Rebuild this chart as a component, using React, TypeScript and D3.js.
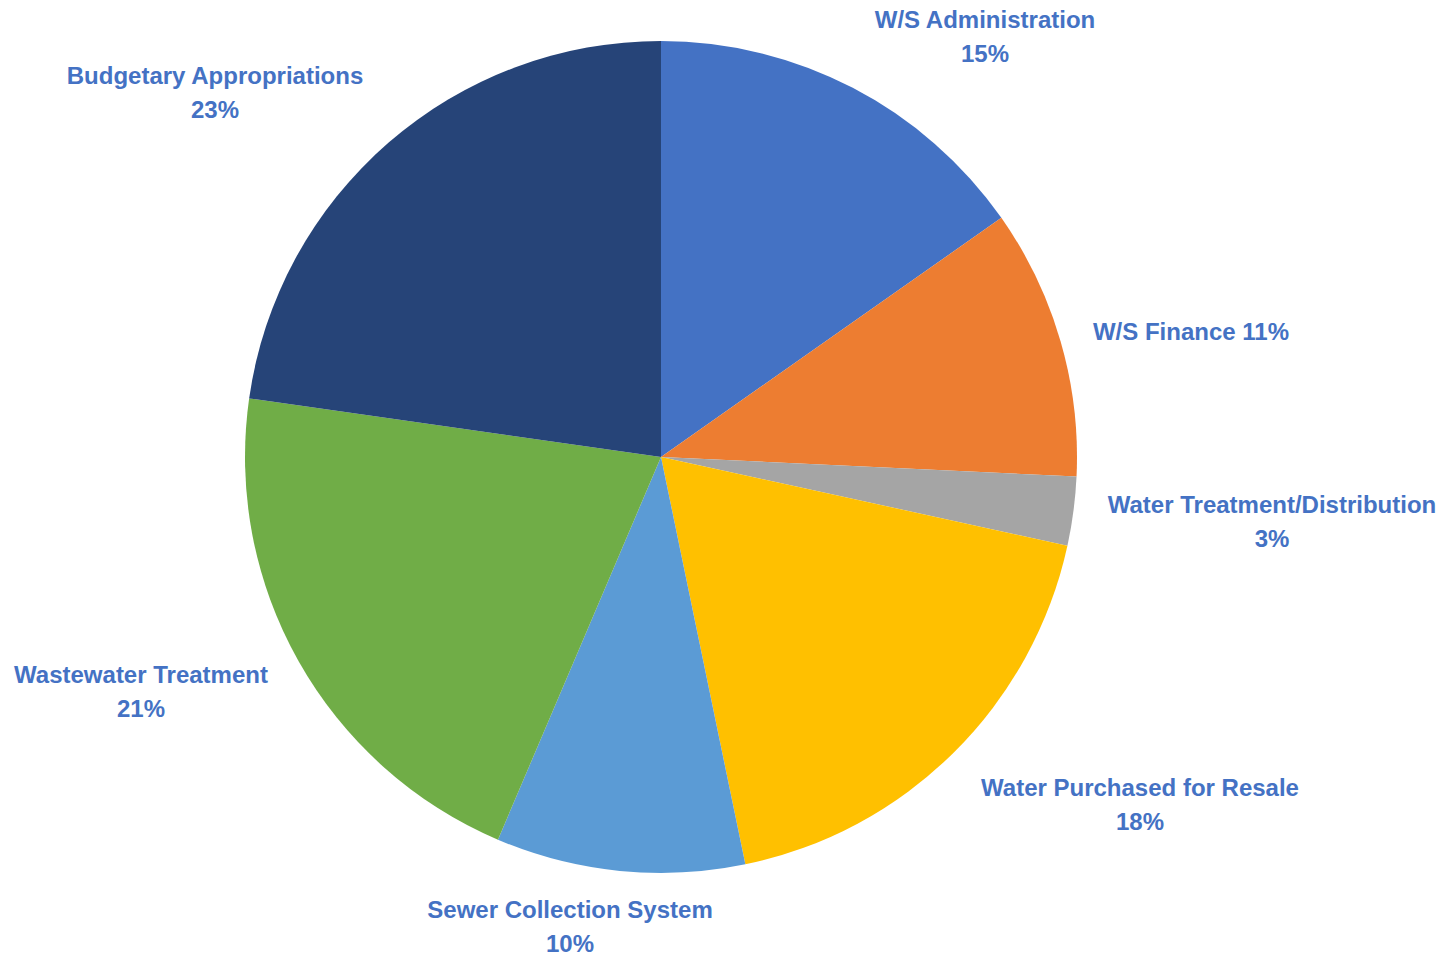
import React from "react";
import * as d3 from "d3";

const categories = [
  "W/S Administration",
  "W/S Finance",
  "Water Treatment/Distribution",
  "Water Purchased for Resale",
  "Sewer Collection System",
  "Wastewater Treatment",
  "Budgetary Appropriations",
];
const values = [15.25, 10.5, 2.67, 18.33, 9.66, 20.84, 22.75];
const percentLabels = ["15%", "11%", "3%", "18%", "10%", "21%", "23%"];
const colors = ["#4472C4", "#ED7D31", "#A5A5A5", "#FFC000", "#5B9BD5", "#70AD47", "#264478"];
// label anchor positions (layout) and whether the label is on one line
const labelPos: [number, number][] = [
  [985, 37],
  [1191, 332],
  [1272, 522],
  [1140, 805],
  [570, 927],
  [141, 692],
  [215, 93],
];
const singleLine = [false, true, false, false, false, false, false];

export default function App() {
  const W = 1454, H = 958;
  const cx = 661, cy = 457, r = 416;
  const pie = d3.pie<number>().sort(null).value((d) => d);
  const arcs = pie(values);
  const arc = d3.arc<d3.PieArcDatum<number>>().innerRadius(0).outerRadius(r);
  const font = "'Liberation Sans Narrow', 'Arial Narrow', 'Liberation Sans', Arial, sans-serif";
  return (
    <svg width={W} height={H} style={{ position: "absolute", left: 0, top: 0 }}>
      <rect width={W} height={H} fill="#fff" />
      <g transform={`translate(${cx},${cy})`}>
        {arcs.map((a, i) => (
          <path key={i} d={arc(a) || ""} fill={colors[i]} />
        ))}
      </g>
      {categories.map((c, i) => {
        const [x, y] = labelPos[i];
        return (
          <text
            key={c}
            x={x}
            y={y}
            textAnchor="middle"
            fontFamily={font}
            fontWeight="bold"
            fontSize={24}
            fill="#4472C4"
          >
            {singleLine[i] ? (
              <tspan x={x} dy="0.35em">{`${c} ${percentLabels[i]}`}</tspan>
            ) : (
              <>
                <tspan x={x} dy="-0.36em">{c}</tspan>
                <tspan x={x} dy="1.42em">{percentLabels[i]}</tspan>
              </>
            )}
          </text>
        );
      })}
    </svg>
  );
}
